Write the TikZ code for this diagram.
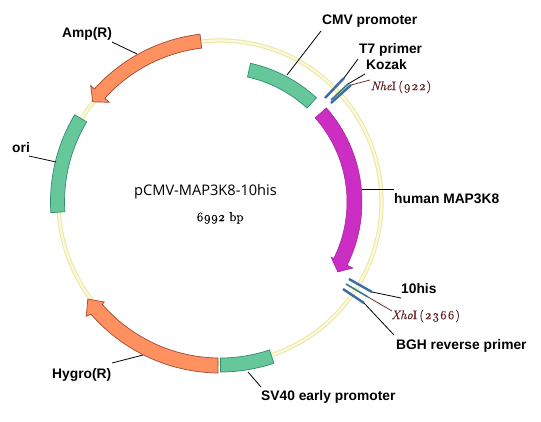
\documentclass[tikz,border=0pt]{standalone}
\usepackage{fontspec}
\setmainfont{Liberation Sans}
\newfontfamily\oldface[Numbers=OldStyle,FakeBold=0.6]{Latin Modern Roman}
\newfontfamily\oldspaced[Numbers=OldStyle,LetterSpace=6,FakeBold=0.6]{Latin Modern Roman}
\newfontfamily\titleface{Open Sans}
\definecolor{ringout}{HTML}{EBE6A6}
\definecolor{ringin}{HTML}{FBFAD8}
\definecolor{grnfill}{HTML}{66C79A}
\definecolor{grnline}{HTML}{2F8F6C}
\definecolor{orgfill}{HTML}{FF9060}
\definecolor{orgline}{HTML}{A04A35}
\definecolor{magfill}{HTML}{CC2EC4}
\definecolor{magline}{HTML}{A02098}
\definecolor{mblue}{HTML}{3B6CA8}
\definecolor{mteal}{HTML}{3C7C80}
\definecolor{site}{HTML}{5E1E1E}
\tikzset{
  lab/.style={font=\bfseries\fontsize{13.8}{14}\selectfont, inner sep=0pt, anchor=west, yshift=-1pt},
  sitelab/.style={font=\oldface\fontsize{12.5}{13}\selectfont, text=site, inner sep=0pt, anchor=west},
  lead/.style={draw=black, line width=0.8pt},
  sitelead/.style={draw=site, line width=0.7pt},
  grnseg/.style={fill=grnfill, draw=grnline, line width=0.7pt},
  orgseg/.style={fill=orgfill, draw=orgline, line width=0.7pt},
  magseg/.style={fill=magfill, draw=magline, line width=0.5pt},
  bluemark/.style={draw=mblue, line width=2.4pt},
  tealmark/.style={draw=mteal, line width=1.6pt}
}
\begin{document}
\begin{tikzpicture}[x=1pt,y=1pt]
\useasboundingbox (0,0) rectangle (541,-421);
\fill[white] (0,0) rectangle (541,-421);
\coordinate (c) at (220,-202);
\begin{scope}[shift={(c)}]
  % backbone ring
  \draw[ringout, line width=4.2pt] (0,0) circle[radius=161.5pt];
  \draw[ringin, line width=2.2pt] (0,0) circle[radius=161.5pt];
  % CMV promoter
  \path[grnseg] (77.6:128) arc[start angle=77.6,end angle=47.2,radius=128pt] -- (47.2:142)
     arc[start angle=47.2,end angle=77.6,radius=142pt] -- cycle;
  % human MAP3K8 arrow
  \path[magseg] (41.5:127) arc[start angle=41.5,end angle=-26.4,radius=127pt]
     -- (-26.4:124) -- (-30.7:137) -- (-26.4:148.5) -- (-26.4:142)
     arc[start angle=-26.4,end angle=41.5,radius=142pt] -- cycle;
  % Amp(R)
  \path[orgseg] (96.8:169) arc[start angle=96.8,end angle=138,radius=169pt]
     -- (138:174) -- (141.8:162) -- (138:149) -- (138:155)
     arc[start angle=138,end angle=96.8,radius=155pt] -- cycle;
  % ori
  \path[grnseg] (149:155.5) arc[start angle=149,end angle=183.6,radius=155.5pt] -- (183.6:169.5)
     arc[start angle=183.6,end angle=149,radius=169.5pt] -- cycle;
  % Hygro(R)
  \path[orgseg] (269.3:171) arc[start angle=269.3,end angle=221,radius=171pt]
     -- (220.5:176) -- (216.3:164) -- (220.8:153) -- (221:156)
     arc[start angle=221,end angle=269.3,radius=156pt] -- cycle;
  % SV40
  \path[grnseg] (270.2:156) arc[start angle=270.2,end angle=288.5,radius=156pt] -- (288.5:170)
     arc[start angle=288.5,end angle=270.2,radius=170pt] -- cycle;
\end{scope}

% marker end points
\coordinate (t7a) at (325,-98);   \coordinate (t7b) at (344,-78);
\coordinate (koa) at (331,-100);  \coordinate (kob) at (348,-84);
\coordinate (nha) at (331,-103);  \coordinate (nhb) at (351,-85);
\coordinate (hia) at (349,-279);  \coordinate (hib) at (372,-292);
\coordinate (xha) at (346,-284);  \coordinate (xhb) at (368,-297);
\coordinate (bga) at (343,-289);  \coordinate (bgb) at (364,-303);
\draw[bluemark] (t7a) -- (t7b);
\draw[bluemark] (nha) -- (nhb);
\draw[tealmark] (koa) -- (kob);
\draw[bluemark] (hia) -- (hib);
\draw[tealmark] (xha) -- (xhb);
\draw[bluemark] (bga) -- (bgb);

% leader anchors on features
\coordinate (cmvp) at (287,-75);
\coordinate (ampp) at (137,-54);
\coordinate (orip) at (56,-162);
\coordinate (hygp) at (143,-355);
\coordinate (svp)  at (248,-372);
\coordinate (mapp) at (362,-189);

% labels
\node[lab] (cmv) at (322,-20) {CMV promoter};
\node[lab] (t7) at (359,-49) {T7 primer};
\node[lab] (koz) at (366,-64) {Kozak};
\node[sitelab] (nhe) at (370.5,-87) {\textit{Nhe}I\,{\oldspaced(922)}};
\node[lab] (amp) at (62,-33) {Amp(R)};
\node[lab] (ori) at (12,-147) {ori};
\node[lab] (map) at (394,-198) {human MAP3K8};
\node[lab] (his) at (401,-288) {10his};
\node[sitelab] (xho) at (391,-316) {\textit{Xho}I\,{\oldspaced(2366)}};
\node[lab] (bgh) at (396,-345) {BGH reverse primer};
\node[lab] (hyg) at (52,-374) {Hygro(R)};
\node[lab] (sv) at (261,-396) {SV40 early promoter};
\node[inner sep=0pt, font=\titleface\fontsize{14.6}{16}\selectfont, text=black] (title) at (205.5,-192) {pCMV-MAP3K8-10his};
\node[inner sep=0pt, font=\oldface\fontsize{13}{13}\selectfont, text=black] (size) at (220,-218) {6992 bp};

% leaders
\coordinate (cmve) at (321,-31);
\coordinate (t7e) at (358,-59);
\coordinate (koe) at (365,-74);
\coordinate (nhe2) at (370,-80);
\coordinate (ampe) at (112,-42);
\coordinate (orie) at (29,-156);
\coordinate (mape) at (394,-189);
\coordinate (hie) at (401,-298);
\coordinate (xhe) at (392,-311);
\coordinate (bge) at (394,-335);
\coordinate (hyge) at (112,-363);
\coordinate (sve) at (261,-387);
\draw[lead] (cmvp) -- (cmve);
\draw[lead] (t7b) -- (t7e);
\draw[lead] (kob) -- (koe);
\draw[sitelead] (nhb) -- (nhe2);
\draw[lead] (ampe) -- (ampp);
\draw[lead] (orie) -- (orip);
\draw[lead] (mapp) -- (mape);
\draw[lead] (hib) -- (hie);
\draw[sitelead] (xhb) -- (xhe);
\draw[lead] (bgb) -- (bge);
\draw[lead] (hyge) -- (hygp);
\draw[lead] (svp) -- (sve);
\end{tikzpicture}
\end{document}
